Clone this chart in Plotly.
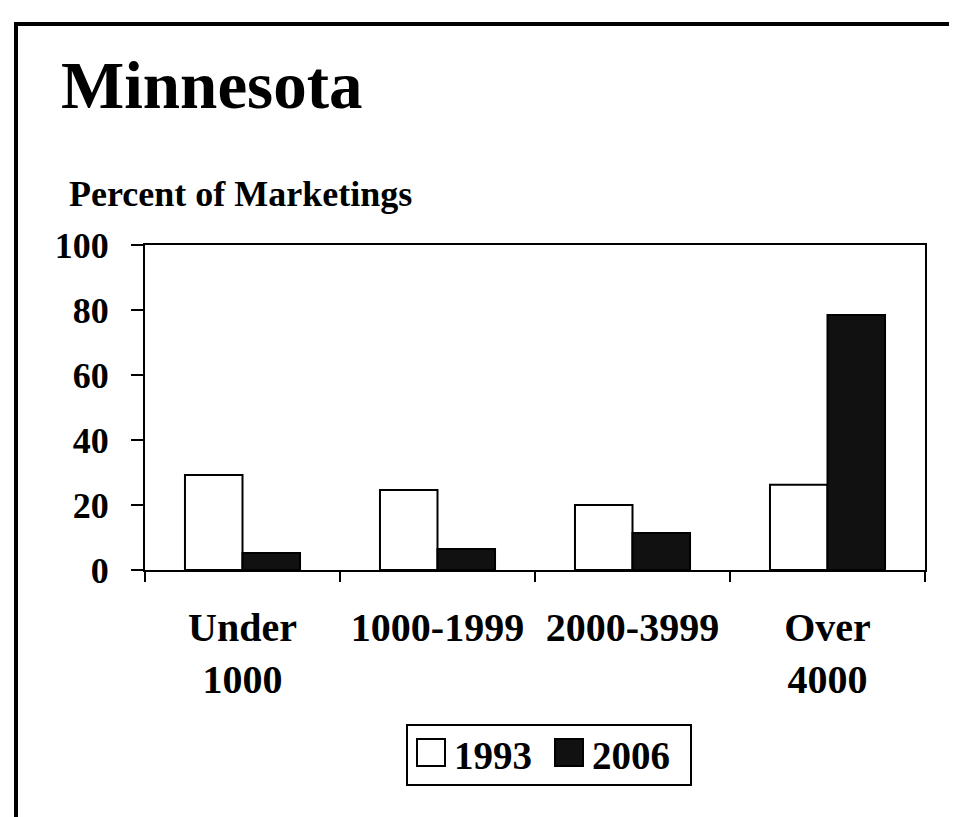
import plotly.graph_objects as go

categories = ["Under<br>1000", "1000-1999", "2000-3999", "Over<br>4000"]
series_names = ["1993", "2006"]
values_1993 = [29.2, 24.6, 20.0, 26.2]
values_2006 = [5.2, 6.5, 11.4, 78.5]
y_ticks = [0, 20, 40, 60, 80, 100]

FONT = "Liberation Serif, Times New Roman, serif"
W, H = 957, 817
L, R, T, B = 137, 40, 237, 255
PW, PH = W - L - R, H - T - B


def X(px):
    return (px - L) / PW


def Y(py):
    return (H - B - py) / PH


fig = go.Figure()
fig.add_trace(go.Bar(
    x=categories, y=values_1993, name=series_names[0],
    marker=dict(color="white", line=dict(color="black", width=2)),
    showlegend=False,
))
fig.add_trace(go.Bar(
    x=categories, y=values_2006, name=series_names[1],
    marker=dict(color="#111111", line=dict(color="black", width=2)),
    showlegend=False,
))

shapes = [
    # outer frame
    dict(type="line", xref="paper", yref="paper", x0=X(6), x1=X(1000), y0=Y(16), y1=Y(16),
         line=dict(color="black", width=4)),
    dict(type="line", xref="paper", yref="paper", x0=X(8), x1=X(8), y0=Y(14), y1=Y(830),
         line=dict(color="black", width=4)),
    dict(type="line", xref="paper", yref="paper", x0=X(950), x1=X(950), y0=Y(18), y1=Y(830),
         line=dict(color="#e2e2e2", width=1)),
    # legend box
    dict(type="rect", xref="paper", yref="paper", x0=X(399), x1=X(683), y0=Y(717), y1=Y(777),
         line=dict(color="black", width=2), fillcolor="white"),
    dict(type="rect", xref="paper", yref="paper", x0=X(409), x1=X(437), y0=Y(731), y1=Y(758),
         line=dict(color="black", width=2), fillcolor="white"),
    dict(type="rect", xref="paper", yref="paper", x0=X(547), x1=X(575), y0=Y(731), y1=Y(758),
         line=dict(color="black", width=2), fillcolor="#111111"),
]

annotations = [
    dict(text="Minnesota", xref="paper", yref="paper", x=X(51), y=Y(77),
         xanchor="left", yanchor="middle", showarrow=False,
         font=dict(family=FONT, size=67, color="black", weight="bold")),
    dict(text="Percent of Marketings", xref="paper", yref="paper", x=X(59), y=Y(186),
         xanchor="left", yanchor="middle", showarrow=False,
         font=dict(family=FONT, size=36, color="black", weight="bold")),
    dict(text=series_names[0], xref="paper", yref="paper", x=X(444), y=Y(747),
         xanchor="left", yanchor="middle", showarrow=False,
         font=dict(family=FONT, size=39, color="black", weight="bold")),
    dict(text=series_names[1], xref="paper", yref="paper", x=X(582), y=Y(747),
         xanchor="left", yanchor="middle", showarrow=False,
         font=dict(family=FONT, size=39, color="black", weight="bold")),
]

fig.update_layout(
    width=W, height=H,
    margin=dict(l=L, r=R, t=T, b=B, pad=0),
    paper_bgcolor="white", plot_bgcolor="white",
    barmode="group", bargap=0.41, bargroupgap=0,
    showlegend=False,
    shapes=shapes, annotations=annotations,
    font=dict(family=FONT, color="black"),
)
fig.update_xaxes(
    showline=True, linecolor="black", linewidth=2, mirror=True,
    ticks="outside", tickson="boundaries", ticklen=10, tickwidth=2, tickcolor="black",
    showgrid=False, ticklabelstandoff=21,
    tickfont=dict(family=FONT, size=40, color="black", weight="bold"),
)
fig.update_yaxes(
    range=[0, 100], tickvals=y_ticks,
    showline=True, linecolor="black", linewidth=2, mirror=True,
    ticks="outside", ticklen=12, tickwidth=2, tickcolor="black",
    showgrid=False, zeroline=False, ticklabelstandoff=15,
    tickfont=dict(family=FONT, size=36, color="black", weight="bold"),
)

fig.write_html("out.html")
